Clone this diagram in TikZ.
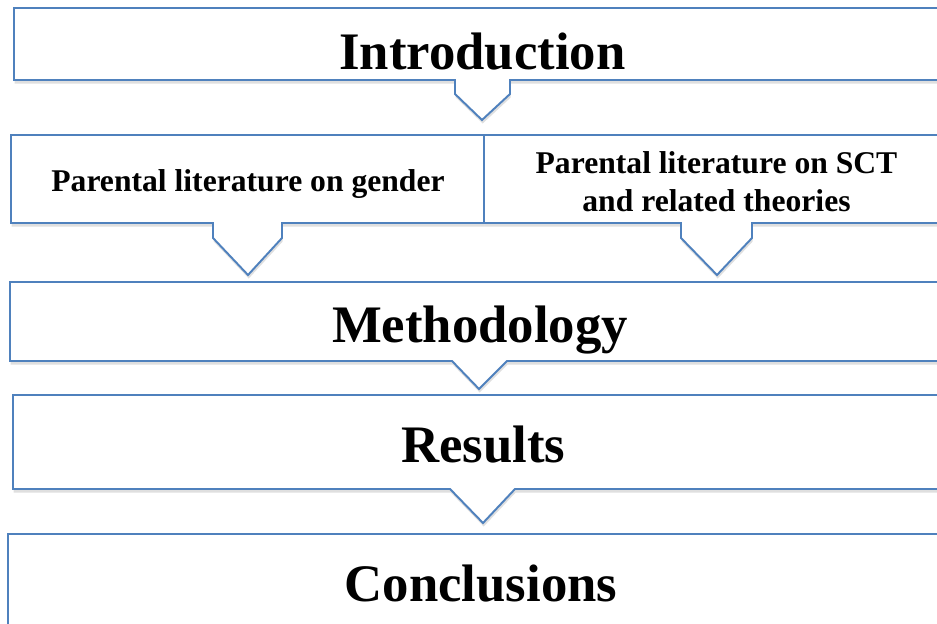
\documentclass[tikz,border=0pt]{standalone}
\usepackage{fontspec}
\setmainfont{Liberation Serif}
\usepackage{xcolor}
\usetikzlibrary{shadows}
\definecolor{boxblue}{RGB}{79,129,189}

\begin{document}
\begin{tikzpicture}[
  flowbox/.style={draw=boxblue, line width=1.1pt, fill=white,
    drop shadow={shadow xshift=0.4pt, shadow yshift=-2pt, opacity=0.25}},
  bigtitle/.style={font=\fontsize{30}{36}\selectfont\bfseries, anchor=base},
  subtitle/.style={font=\fontsize{18}{22}\selectfont\bfseries, anchor=base, align=center}
]
\useasboundingbox (0,0) rectangle (18.74,12.48);
\clip (0,0) rectangle (18.74,12.48);

% Introduction and its pointer
\draw[flowbox] (0.28,12.32) -- (19.2,12.32) -- (19.2,10.88) -- (10.20,10.88) -- (10.20,10.60)
  -- (9.64,10.08) -- (9.10,10.60) -- (9.10,10.88) -- (0.28,10.88) -- cycle;
\node[bigtitle] (intro) at (9.65,11.08) {Introduction};

% two literature boxes
\draw[flowbox] (0.22,9.78) -- (9.68,9.78) -- (9.68,8.02) -- (5.64,8.02) -- (5.64,7.72)
  -- (4.96,6.98) -- (4.26,7.72) -- (4.26,8.02) -- (0.22,8.02) -- cycle;
\draw[flowbox] (9.68,9.78) -- (19.2,9.78) -- (19.2,8.02) -- (15.04,8.02) -- (15.04,7.72)
  -- (14.34,6.98) -- (13.62,7.72) -- (13.62,8.02) -- (9.68,8.02) -- cycle;
\node[subtitle] (gender) at (4.96,8.64) {Parental literature on gender};
\node[subtitle] (sct) at (14.33,8.24) {Parental literature on SCT\\and related theories};

% Methodology
\draw[flowbox] (0.20,6.84) -- (19.2,6.84) -- (19.2,5.26) -- (10.14,5.26)
  -- (9.58,4.70) -- (9.04,5.26) -- (0.20,5.26) -- cycle;
\node[bigtitle] (method) at (9.60,5.62) {Methodology};

% Results
\draw[flowbox] (0.26,4.58) -- (19.2,4.58) -- (19.2,2.70) -- (10.30,2.70)
  -- (9.66,2.02) -- (9.00,2.70) -- (0.26,2.70) -- cycle;
\node[bigtitle] (results) at (9.67,3.22) {Results};

% Conclusions
\draw[flowbox] (0.16,1.80) -- (19.2,1.80) -- (19.2,-0.5) -- (0.16,-0.5) -- cycle;
\node[bigtitle] (concl) at (9.62,0.44) {Conclusions};
\end{tikzpicture}
\end{document}
